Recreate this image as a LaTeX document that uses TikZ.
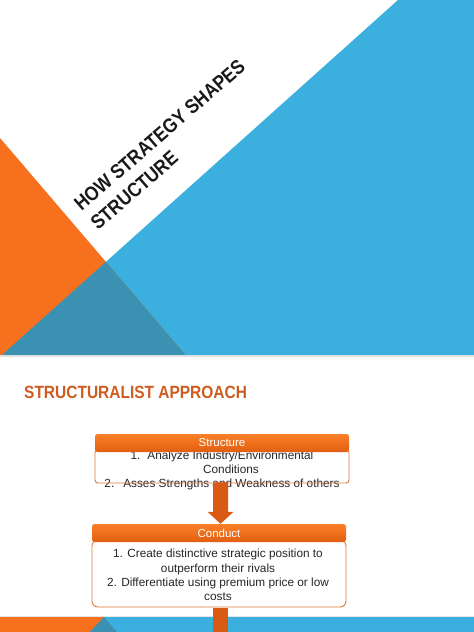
\documentclass[tikz,border=0pt]{standalone}
\usepackage{fontspec}
\setmainfont{Liberation Sans}
\usetikzlibrary{calc}
\definecolor{sblue}{RGB}{59,176,222}
\definecolor{sorange}{RGB}{246,112,30}
\definecolor{steal}{RGB}{58,145,178}
\definecolor{stitle}{RGB}{205,92,32}
\definecolor{hdrtop}{RGB}{250,128,40}
\definecolor{hdrbot}{RGB}{226,94,16}
\definecolor{bodyline}{RGB}{226,122,62}
\definecolor{arrowc}{RGB}{216,90,20}
\begin{document}
\begin{tikzpicture}[x=1pt,y=-1pt,
  hdr/.style={rounded corners=2.5pt, top color=hdrtop, bottom color=hdrbot, text=white,
    font=\fontsize{11.5}{13}\selectfont, inner sep=0pt, minimum width=254pt, minimum height=18pt},
  bodybox/.style={draw=bodyline, line width=0.9pt, inner sep=0pt, minimum width=254pt},
  bodytext/.style={font=\fontsize{11.8}{14.4}\selectfont, align=center, text=black!85, inner sep=0pt},
  slidetitle/.style={font=\bfseries\fontsize{20}{25}\selectfont, text=black!90, inner sep=0pt},
  sectitle/.style={font=\bfseries\fontsize{17.7}{20}\selectfont, text=stitle, inner sep=0pt},
  arrowfill/.style={fill=arrowc}]
\useasboundingbox (0,0) rectangle (474,632);
\fill[white] (0,0) rectangle (474,632);
% ---- slide 1 ----
\fill[sblue] (398,0) -- (474,0) -- (474,355) -- (2,355) -- cycle;
\fill[sorange] (0,138) -- (185.5,355) -- (0,355) -- cycle;
\fill[steal] (105.9,261.9) -- (185.5,355) -- (2,355) -- cycle;
\fill[black!12] (0,355) rectangle (474,357);
\node[slidetitle, rotate=41] (title) at (169,146)
  {\scalebox{0.875}[1]{\begin{tabular}{@{}l@{}}HOW STRATEGY SHAPES\\STRUCTURE\end{tabular}}};
% ---- slide 2 ----
\fill[black!10] (0,616) rectangle (474,617);
\fill[sblue] (0,617) rectangle (474,632);
\fill[sorange] (0,617) -- (104,617) -- (90,632) -- (0,632) -- cycle;
\fill[steal] (104,617) -- (117,632) -- (90,632) -- cycle;
\node[sectitle, anchor=west] (sect) at (24,392) {\scalebox{0.875}[1]{STRUCTURALIST APPROACH}};
% structure
\node[bodytext] (stext) at (222,470.5)
  {1.\hspace{7pt}Analyze Industry/Environmental\\\hspace*{18pt}Conditions\\2.\hspace{9pt}Asses Strengths and Weakness of others};
\node[bodybox, rounded corners=3pt, minimum height=33pt] (sbody) at (222,466.5) {};
\node[hdr] (shdr) at (222,443) {Structure};
% conduct
\node[bodybox, rounded corners=6pt, minimum height=67pt] (cbody) at (219,573.5) {};
\node[bodytext] (ctext) at (218,575)
  {1. Create distinctive strategic position to\\outperform their rivals\\2. Differentiate using premium price or low\\costs};
\node[hdr] (chdr) at (219,533) {Conduct};
% arrows
\coordinate (a1s) at ($(chdr.north |- sbody.south)+(1.5,0)$);
\coordinate (a1e) at ($(chdr.north)+(1.5,0)$);
\fill[arrowfill] ($(a1s)+(-7.5,-1)$) -- ($(a1e)+(-7.5,-12)$) -- ($(a1e)+(-13,-12)$) -- (a1e)
  -- ($(a1e)+(13,-12)$) -- ($(a1e)+(7.5,-12)$) -- ($(a1s)+(7.5,-1)$) -- cycle;
\coordinate (a2s) at ($(cbody.south)+(1.5,0)$);
\coordinate (a2e) at (220.5,632);
\fill[arrowfill] ($(a2s)+(-7.5,0.5)$) rectangle ($(a2e)+(7.5,0)$);
\end{tikzpicture}
\end{document}
